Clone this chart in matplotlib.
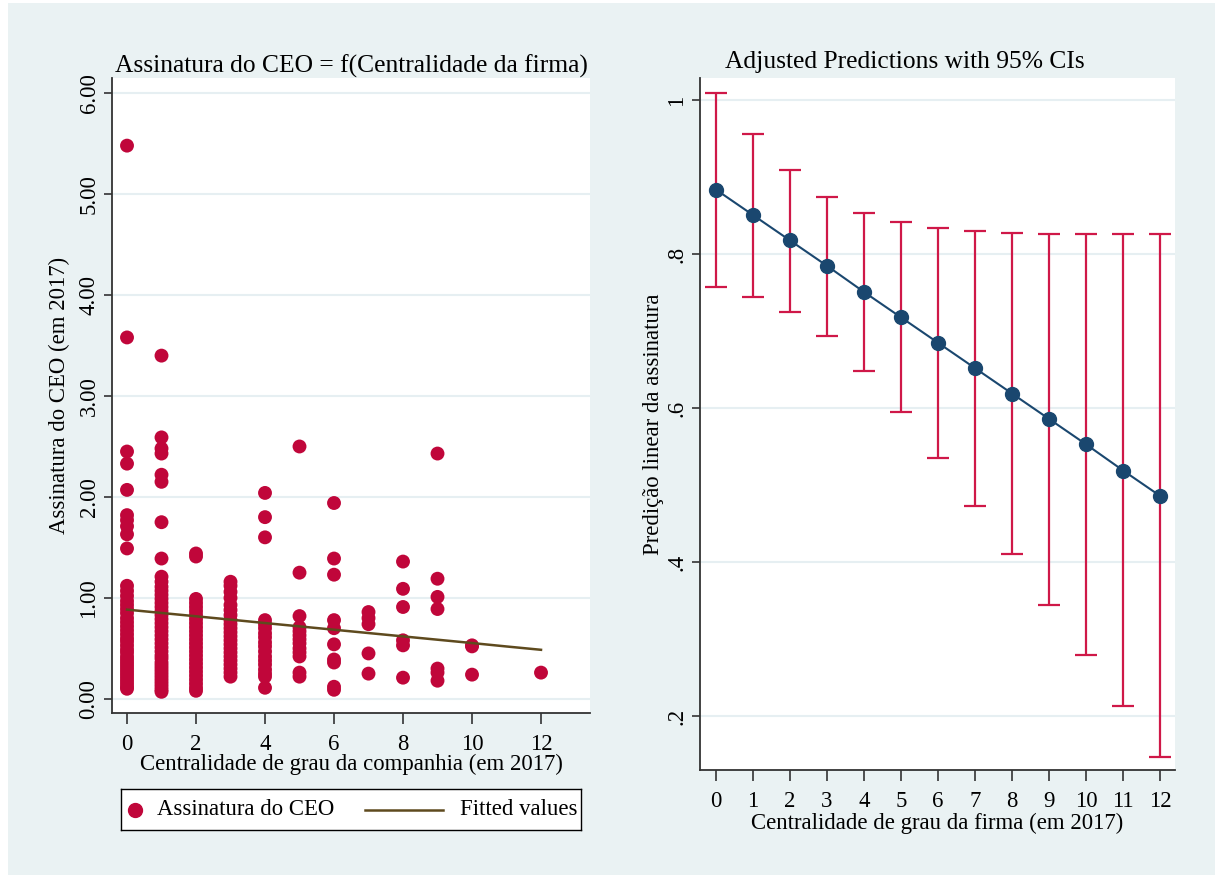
import numpy as np
import matplotlib
matplotlib.use('Agg')
import matplotlib.pyplot as plt

plt.rcParams['font.family'] = ['Liberation Serif', 'DejaVu Serif']

# --- dados: assinatura do CEO por centralidade de grau
degree_levels = [0, 1, 2, 3, 4, 5, 6, 7, 8, 9, 10, 12]
ceo_sig_by_degree = [
    [5.48, 3.58, 2.45, 2.33, 2.07, 1.82, 1.77, 1.71, 1.63, 1.49, 1.12, 1.07, 1.02,
     0.97, 0.93, 0.89, 0.85, 0.80, 0.76, 0.72, 0.68, 0.64, 0.60, 0.57, 0.53, 0.49,
     0.46, 0.42, 0.39, 0.36, 0.33, 0.30, 0.27, 0.24, 0.21, 0.18, 0.15, 0.12, 0.10],
    [3.40, 2.59, 2.48, 2.43, 2.22, 2.15, 1.75, 1.39, 1.21, 1.16, 1.11, 1.07, 1.03,
     0.99, 0.95, 0.91, 0.87, 0.83, 0.79, 0.75, 0.71, 0.67, 0.63, 0.59, 0.55, 0.51,
     0.47, 0.43, 0.40, 0.36, 0.33, 0.30, 0.27, 0.24, 0.21, 0.18, 0.15, 0.12, 0.09, 0.07],
    [1.44, 1.41, 0.99, 0.95, 0.91, 0.87, 0.83, 0.79, 0.75, 0.71, 0.67, 0.63, 0.59,
     0.55, 0.51, 0.47, 0.43, 0.39, 0.35, 0.31, 0.27, 0.23, 0.19, 0.15, 0.11, 0.08],
    [1.16, 1.12, 1.06, 1.00, 0.93, 0.88, 0.83, 0.78, 0.74, 0.70, 0.66, 0.62, 0.58,
     0.54, 0.50, 0.46, 0.42, 0.38, 0.34, 0.30, 0.26, 0.22],
    [2.04, 1.80, 1.60, 0.78, 0.74, 0.70, 0.65, 0.61, 0.56, 0.52, 0.47, 0.42, 0.38,
     0.34, 0.29, 0.25, 0.22, 0.11],
    [2.50, 1.25, 0.82, 0.71, 0.67, 0.63, 0.59, 0.55, 0.50, 0.46, 0.42, 0.26, 0.22],
    [1.94, 1.39, 1.23, 0.78, 0.70, 0.54, 0.39, 0.36, 0.12, 0.09],
    [0.86, 0.80, 0.74, 0.45, 0.25],
    [1.36, 1.09, 0.91, 0.58, 0.53, 0.21],
    [2.43, 1.19, 1.01, 0.89, 0.30, 0.26, 0.18],
    [0.53, 0.52, 0.24],
    [0.26],
]

# --- predicoes ajustadas com IC 95%
pred_x = [0, 1, 2, 3, 4, 5, 6, 7, 8, 9, 10, 11, 12]
pred = [0.884, 0.851, 0.818, 0.785, 0.751, 0.718, 0.685, 0.652, 0.619, 0.586, 0.553, 0.519, 0.486]
ci_hi = [1.010, 0.956, 0.910, 0.875, 0.853, 0.842, 0.834, 0.830, 0.827, 0.826, 0.826, 0.826, 0.826]
ci_lo = [0.757, 0.745, 0.725, 0.694, 0.649, 0.595, 0.535, 0.473, 0.410, 0.344, 0.279, 0.213, 0.147]

BG = '#EAF2F3'
GRID = '#E6EFF2'
RED = '#C0063A'
CI_RED = '#CF1848'
NAVY = '#1A476F'
BROWN = '#5E4A1E'
AX = '#333333'
FS = 16.4

W, H = 1215, 875
fig = plt.figure(figsize=(W / 100, H / 100), dpi=100)
fig.patch.set_facecolor(BG)

# faixa branca no topo e esquerda (recorte da pagina)
fig.patches.append(plt.Rectangle((0, 1 - 3 / H), 1, 3 / H, transform=fig.transFigure,
                                 facecolor='white', edgecolor='none'))
fig.patches.append(plt.Rectangle((0, 0), 8 / W, 1, transform=fig.transFigure,
                                 facecolor='white', edgecolor='none'))


def px_axes(x0, x1, y0, y1):
    return fig.add_axes([x0 / W, 1 - y1 / H, (x1 - x0) / W, (y1 - y0) / H])


def style(ax):
    ax.set_facecolor('white')
    for s in ['top', 'right']:
        ax.spines[s].set_visible(False)
    for s in ['left', 'bottom']:
        ax.spines[s].set_color(AX)
        ax.spines[s].set_linewidth(1.3)
    ax.tick_params(direction='out', length=6, width=1.2, color=AX,
                   labelsize=FS, labelcolor='black')
    ax.tick_params(axis='x', length=8, pad=7)
    ax.grid(axis='y', color=GRID, linewidth=1.5)
    ax.set_axisbelow(True)


# ---------------- painel esquerdo
ax1 = px_axes(112, 590, 78, 713)
style(ax1)
for d, vals in zip(degree_levels, ceo_sig_by_degree):
    ax1.scatter([d] * len(vals), vals, s=100, color=RED, edgecolors='none', zorder=3)
ax1.plot(pred_x, pred, color=BROWN, linewidth=1.8, zorder=4)

ax1.set_xlim(-0.435, 13.42)
ax1.set_ylim(-0.14, 6.15)
ax1.set_xticks(range(0, 13, 2))
ax1.set_yticks(range(0, 7))
ax1.set_yticklabels(['%.2f' % v for v in range(0, 7)], rotation=90, va='center')
ax1.tick_params(axis='y', pad=3)
ax1.set_xlabel('Centralidade de grau da companhia (em 2017)', fontsize=FS)
ax1.set_ylabel('Assinatura do CEO (em 2017)', fontsize=FS)
ax1.xaxis.set_label_coords(0.5, -0.064)
ax1.yaxis.set_label_coords(-0.088, 0.5)
ax1.set_title('Assinatura do CEO = f(Centralidade da firma)', fontsize=18.4, pad=4)

# legenda desenhada como caixa propria (layout do Stata)
axl = px_axes(121, 581, 789, 830)
axl.set_xlim(121, 581)
axl.set_ylim(0, 1)
axl.set_xticks([])
axl.set_yticks([])
axl.set_facecolor('white')
for s in axl.spines.values():
    s.set_color('black')
    s.set_linewidth(1.0)
axl.plot([135], [0.5], marker='o', color=RED, markersize=10, linestyle='none')
axl.plot([365, 443], [0.5, 0.5], color=BROWN, linewidth=1.8)
axl.text(157, 0.5, 'Assinatura do CEO', fontsize=FS, va='center', ha='left')
axl.text(578, 0.5, 'Fitted values', fontsize=FS, va='center', ha='right')

# ---------------- painel direito
ax2 = px_axes(700, 1175, 78, 770)
style(ax2)
err = [np.array(pred) - np.array(ci_lo), np.array(ci_hi) - np.array(pred)]
ax2.errorbar(pred_x, pred, yerr=err, fmt='none', ecolor=CI_RED, elinewidth=1.6,
             capsize=8, capthick=1.6, zorder=3)
ax2.plot(pred_x, pred, color=NAVY, linewidth=1.5, marker='o', markersize=10,
         markerfacecolor=NAVY, markeredgecolor=NAVY, zorder=4)

ax2.set_xlim(-0.43, 12.4)
ax2.set_ylim(0.13, 1.029)
ax2.set_xticks(pred_x)
ax2.set_yticks([0.2, 0.4, 0.6, 0.8, 1.0])
ax2.set_yticklabels(['.2', '.4', '.6', '.8', '1'], rotation=90, va='center')
ax2.tick_params(axis='y', pad=3)
ax2.set_xlabel('Centralidade de grau da firma (em 2017)', fontsize=FS)
ax2.set_ylabel('Predição linear da assinatura', fontsize=FS)
ax2.xaxis.set_label_coords(0.5, -0.062)
ax2.yaxis.set_label_coords(-0.075, 0.5)
fig.text(905 / W, 1 - 62 / H, 'Adjusted Predictions with 95% CIs',
         fontsize=18.4, ha='center', va='center')

fig.savefig('out.png', dpi=100, facecolor=BG)
